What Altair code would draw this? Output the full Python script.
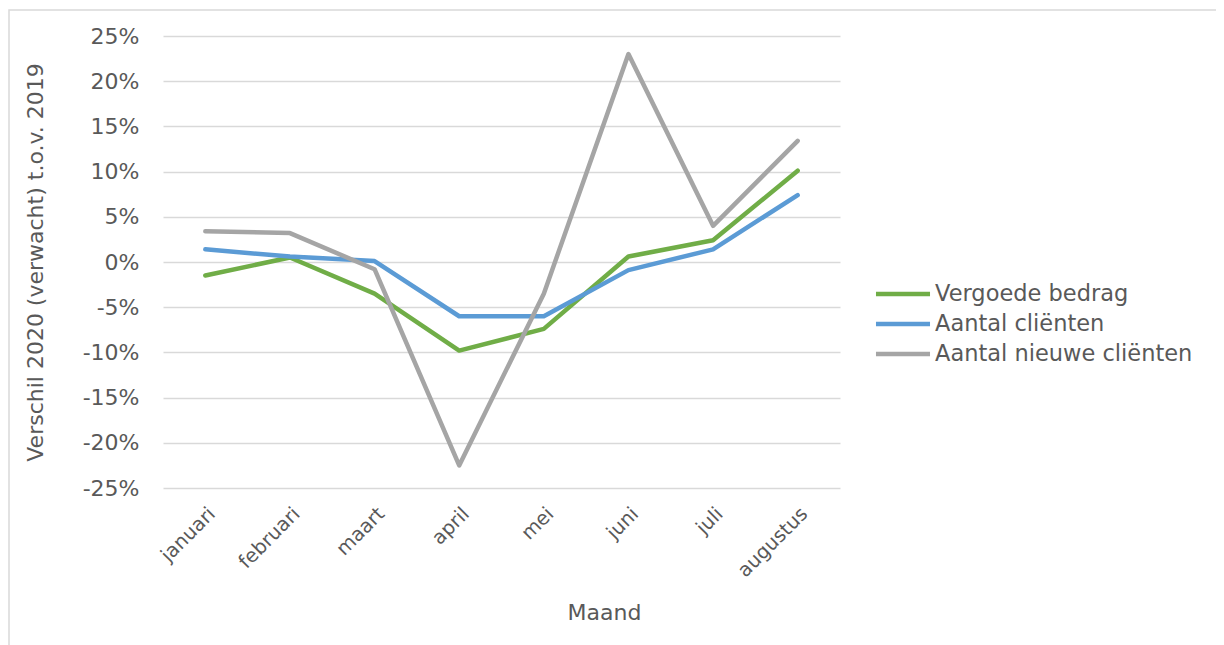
import altair as alt
import pandas as pd

months = ["januari", "februari", "maart", "april", "mei", "juni", "juli", "augustus"]
series_names = ["Vergoede bedrag", "Aantal cliënten", "Aantal nieuwe cliënten"]
vergoede_bedrag = [-1.5, 0.5, -3.5, -9.8, -7.4, 0.6, 2.4, 10.1]
aantal_clienten = [1.4, 0.6, 0.1, -6.0, -6.0, -0.9, 1.4, 7.4]
aantal_nieuwe_clienten = [3.4, 3.2, -0.8, -22.5, -3.5, 23.0, 4.0, 13.4]
y_ticks = [-25, -20, -15, -10, -5, 0, 5, 10, 15, 20, 25]
colors = ["#70AD47", "#5B9BD5", "#A5A5A5"]

rows = []
for name, vals in zip(series_names, [vergoede_bedrag, aantal_clienten, aantal_nieuwe_clienten]):
    for i, (m, v) in enumerate(zip(months, vals)):
        rows.append({"Maand": m, "Reeks": name, "Waarde": v, "idx": i})
df = pd.DataFrame(rows)

FONT = "DejaVu Sans"
TXT = "#595959"

frame = alt.Chart(pd.DataFrame({"a": [0]})).mark_rect(
    fillOpacity=0, stroke="#d9d9d9", strokeWidth=1.5
).encode(
    x=alt.value(-154), x2=alt.value(1055), y=alt.value(-26), y2=alt.value(700)
)

lines = alt.Chart(df).mark_line(strokeWidth=4.5, strokeCap="round", strokeJoin="round").encode(
    x=alt.X("Maand:N", sort=months,
            scale=alt.Scale(type="point", padding=0.5),
            axis=alt.Axis(title="Maand", labelAngle=-45, labelAlign="right", labelBaseline="top",
                          labelPadding=16, ticks=False, domain=False, grid=False,
                          labelFont=FONT, labelFontSize=19.5, labelColor=TXT,
                          titleFont=FONT, titleFontSize=22, titleColor=TXT, titleFontWeight="normal",
                          titleX=441, titleY=124, titleBaseline="middle", titleAlign="center")),
    y=alt.Y("Waarde:Q", scale=alt.Scale(domain=[-25, 25], nice=False),
            axis=alt.Axis(title="Verschil 2020 (verwacht) t.o.v. 2019", values=y_ticks,
                          labelExpr="datum.value + '%'", ticks=False, domain=False,
                          gridColor="#d9d9d9", gridWidth=1.5, labelPadding=24,
                          labelFont=FONT, labelFontSize=22, labelColor=TXT,
                          titleFont=FONT, titleFontSize=22, titleColor=TXT, titleFontWeight="normal",
                          titleX=-128, titleY=226, titleAlign="center", titleBaseline="middle", titleAngle=-90)),
    color=alt.Color("Reeks:N", sort=series_names,
                    scale=alt.Scale(domain=series_names, range=colors),
                    legend=alt.Legend(title=None, orient="none", legendX=724, legendY=242,
                                      symbolType="M-2,0H2", symbolSize=730, symbolStrokeWidth=4.5,
                                      labelFont=FONT, labelFontSize=22.5, labelColor=TXT, labelLimit=0,
                                      labelOffset=16, rowPadding=2)),
    order=alt.Order("idx:Q")
)

chart = alt.layer(frame, lines).properties(
    width=677, height=452,
    padding={"left": 155, "top": 28, "right": 376, "bottom": 157},
    autosize=alt.AutoSizeParams(type="none"),
    background="white"
).configure_view(stroke=None)

chart.save("out.html", embed_options={"renderer": "svg", "actions": False})
